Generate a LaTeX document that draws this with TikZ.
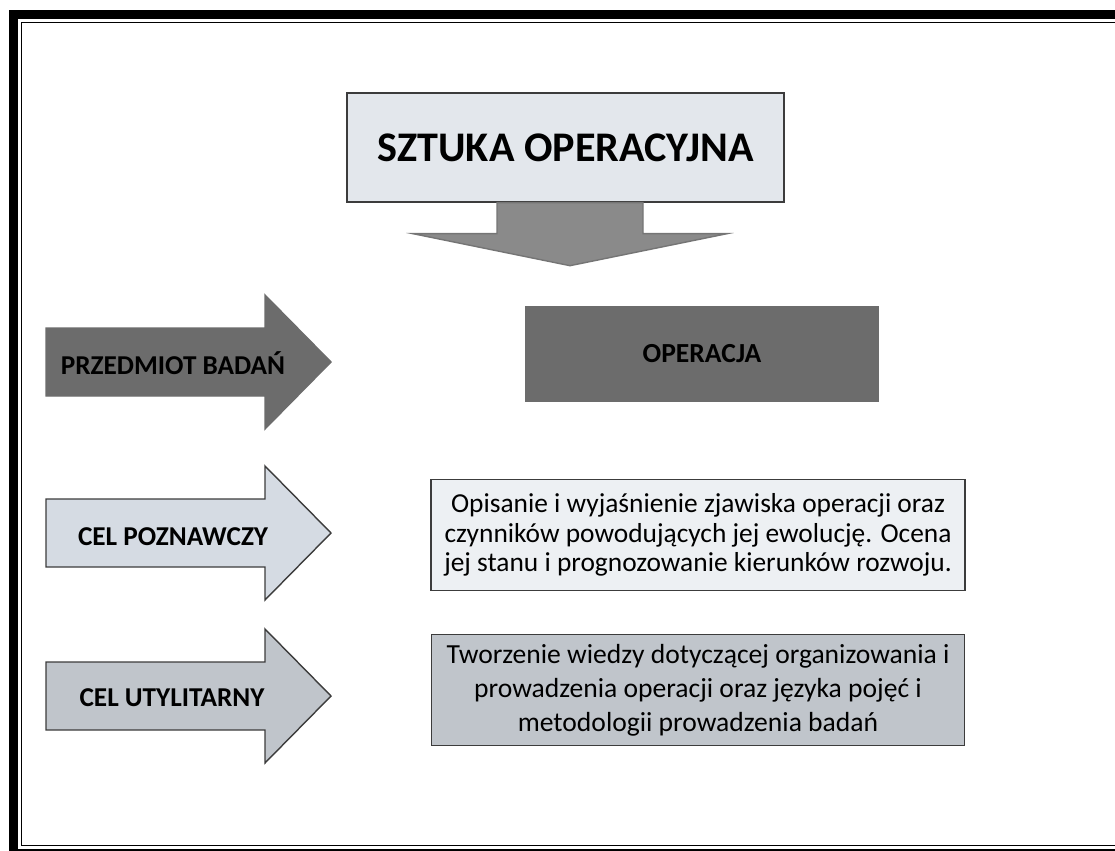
\documentclass[tikz,border=0pt]{standalone}
\usepackage{fontspec}
\setmainfont{Carlito}
\usepackage{xcolor}
\usepackage{tikz}
\usetikzlibrary{calc}
\usetikzlibrary{positioning}

\definecolor{ramka}{HTML}{3C3C3C}
\definecolor{tytul}{HTML}{E3E7EC}
\definecolor{strzalka}{HTML}{8A8A8A}
\definecolor{ciemny}{HTML}{6C6C6C}
\definecolor{jasny}{HTML}{D5DBE3}
\definecolor{blady}{HTML}{EDF0F3}
\definecolor{sredni}{HTML}{C0C5CB}

\begin{document}
\begin{tikzpicture}[x=0.02cm,y=-0.02cm,thick,node distance=1.5cm]
	\tikzstyle{blok}=[draw=ramka, rectangle, inner sep=2pt, align=center]
	\tikzstyle{etykieta}=[inner sep=0pt, font=\bfseries\fontsize{15.5}{18}\selectfont]
	\tikzstyle{opis}=[font=\fontsize{15.6}{17}\selectfont]
	\useasboundingbox (0,0) rectangle (1115,851);
	% ramka strony
	\draw[line width=0.18cm] (13.5,14.5) rectangle (1140,853);
	\draw[line width=0.03cm] (21.5,22.5) rectangle (1135,845.5);

	\node[blok, fill=tytul, minimum width=8.74cm, minimum height=2.18cm, font=\bfseries\fontsize{24}{28}\selectfont] (SO) at (565.5,147.5) {SZTUKA OPERACYJNA};
	\draw[fill=strzalka, draw=strzalka!85!black] ($(SO.south)+(-68.5,0)$) -- ++(0,31) -- ++(-84,0) -- ++(157,32) -- ++(157,-32) -- ++(-84,0) -- ++(0,-31) -- cycle;

	\node[blok, draw=none, fill=ciemny, minimum width=7.08cm, minimum height=1.92cm, font=\bfseries\fontsize{15.7}{18}\selectfont] (OP) at (702,354) {OPERACJA};
	\node[blok, fill=blady, minimum width=10.68cm, minimum height=2.22cm, opis] (OZ) [below=1.52cm of OP, xshift=-0.08cm]
		{Opisanie i wyjaśnienie zjawiska operacji oraz\\czynników powodujących jej ewolucję. Ocena\\jej stanu i prognozowanie kierunków rozwoju.};
	\node[blok, fill=sredni, minimum width=10.66cm, minimum height=2.22cm, opis, font=\fontsize{15.7}{19.3}\selectfont] (TW) [below=0.86cm of OZ]
		{Tworzenie wiedzy dotyczącej organizowania i\\prowadzenia operacji oraz języka pojęć i\\metodologii prowadzenia badań};

	% strzalki w prawo
	\draw[fill=ciemny, draw=ciemny] (46,328) -- ++(219,0) -- ++(0,-33) -- ++(66,67) -- ++(-66,67) -- ++(0,-33) -- ++(-219,0) -- cycle;
	\draw[fill=jasny, draw=ramka] (46,499) -- ++(219,0) -- ++(0,-33) -- ++(66,67) -- ++(-66,67) -- ++(0,-33) -- ++(-219,0) -- cycle;
	\draw[fill=sredni, draw=ramka] (46,662) -- ++(219,0) -- ++(0,-33) -- ++(66,67) -- ++(-66,67) -- ++(0,-33) -- ++(-219,0) -- cycle;
	\node[etykieta] (PB) at (173,363) {PRZEDMIOT BADAŃ};
	\node[etykieta] (CP) at (173,537) {CEL POZNAWCZY};
	\node[etykieta] (CU) at (172,698) {CEL UTYLITARNY};
\end{tikzpicture}
\end{document}
